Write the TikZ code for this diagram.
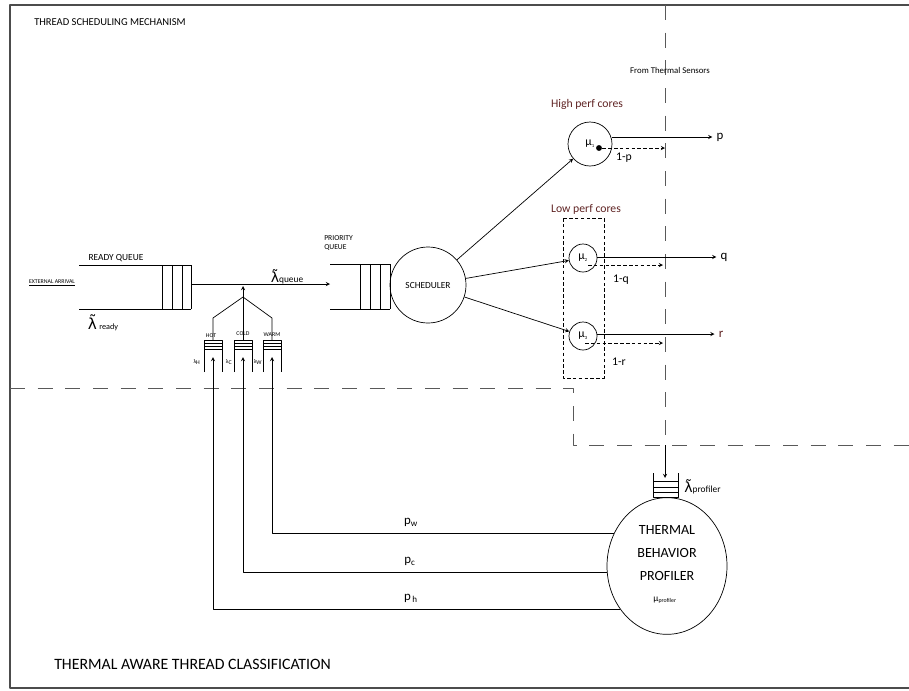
\documentclass[tikz,border=0pt]{standalone}
\usepackage{fontspec}
\setmainfont{Carlito}
\newfontfamily\lamfont{DejaVu Sans}
\usetikzlibrary{shapes.geometric}
\definecolor{brick}{RGB}{95,35,35}
\begin{document}
\begin{tikzpicture}[x=0.03cm, y=-0.03cm, line width=0.6pt, line join=round, >=stealth,
		font=\fontsize{8}{9}\selectfont,
		core/.style={draw, circle, inner sep=0pt, font=\fontsize{10}{11}\selectfont},
		divider/.style={draw=black!65, line width=0.8pt, dash pattern=on 0.45cm off 0.38cm},
		fine/.style={dash pattern=on 3pt off 2pt},
		qlab/.style={font=\fontsize{5}{6}\selectfont, inner sep=1pt}]
	\useasboundingbox (0,0) rectangle (909,690);
	\draw[black!70, line width=0.9pt] (909,5) -- (10,5) -- (10,688) -- (909,688);
	\draw[divider] (10,388) -- (573,388) -- (573,445) -- (909,445);
	\draw[divider] (665,5) -- (665,445);
	\node[anchor=west, font=\fontsize{9}{10}\selectfont] (top) at (30,22) {THREAD SCHEDULING MECHANISM};
	\node[anchor=west, font=\fontsize{13.5}{15}\selectfont] (bottom) at (50,664) {THERMAL AWARE THREAD CLASSIFICATION};
	\node[font=\fontsize{7.5}{9}\selectfont] (sensors) at (670,70) {From Thermal Sensors};

	\coordinate (rqout) at (191,284);
	\draw (79,265) -- (191,265) (79,309) -- (191,309);
	\foreach \x in {162,172,182,191} \draw (\x,265) -- (\x,309);
	\node (rqname) at (116,258) {READY QUEUE};
	\node[font=\fontsize{5}{6}\selectfont] (ext) at (52,283) {\underline{EXTERNAL ARRIVAL}};
	\node (lready) at (103,323) {\fontsize{13}{13}\lamfont λ̃\kern2pt\fontsize{7}{8}\normalfont ready};

	\coordinate (pqin) at (330,284);
	\draw (330,264) -- (390,264) (330,309) -- (390,309);
	\foreach \x in {360,370,380,390} \draw (\x,264) -- (\x,309);
	\node[anchor=west, align=left, font=\fontsize{6.5}{8}\selectfont] (pqname) at (320,243) {PRIORITY\\QUEUE};
	\draw[->] (rqout) -- (pqin);
	\node (lqueue) at (287,277) {\fontsize{12}{12}\lamfont λ̃\fontsize{8}{9}\normalfont queue};

	\node[core, minimum size=2.28cm, font=\fontsize{8}{9}\selectfont] (sched) at (428,285) {SCHEDULER};
	\node[core, minimum size=1.32cm] (c1) at (590,144) {μ\textsubscript{\fontsize{4}{4}\selectfont 1}};
	\node[core, minimum size=0.84cm] (c2) at (583,258) {μ\textsubscript{\fontsize{4}{4}\selectfont 2}};
	\node[core, minimum size=0.84cm] (c3) at (583,336) {μ\textsubscript{\fontsize{4}{4}\selectfont 3}};
	\draw[->] (sched) -- (c1);
	\draw[->] (sched) -- (c2);
	\draw[->] (sched) -- (c3);
	\draw[fine] (563,218) rectangle (604,378);
	\node[text=brick, font=\fontsize{10}{12}\selectfont] (high) at (587,104) {High perf cores};
	\node[text=brick, font=\fontsize{10}{12}\selectfont] (low) at (586,209) {Low perf cores};

	\node[font=\fontsize{11}{12}\selectfont] (p) at (720,137) {p};
	\node[font=\fontsize{11}{12}\selectfont] (q) at (724,257) {q};
	\node[font=\fontsize{11}{12}\selectfont, text=brick] (r) at (721,334) {r};
	\draw[->] (c1.east |- p) -- (p);
	\draw[->] (c2.east |- q) -- (q);
	\draw[->] (c3.east |- r) -- (r);
	\node[fill, circle, inner sep=0pt, minimum size=5pt] (d1) at (599,148) {};
	\coordinate (s2) at (588,265);
	\coordinate (s3) at (585,343);
	\coordinate (e1) at (665,148);
	\coordinate (e2) at (663,265);
	\coordinate (e3) at (663,343);
	\draw[fine, ->] (d1) -- (e1);
	\draw[fine, ->] (s2) -- (e2);
	\draw[fine, ->] (s3) -- (e3);
	\node[font=\fontsize{10}{12}\selectfont] (np) at (624,158) {1-p};
	\node[font=\fontsize{10}{12}\selectfont] (nq) at (621,280) {1-q};
	\node[font=\fontsize{10}{12}\selectfont] (nr) at (619,362) {1-r};

	\foreach \x in {213,243,272}{
		\draw (\x-9,372) -- (\x-9,340) -- (\x+9,340) -- (\x+9,372);
		\foreach \y in {343,346,349} \draw (\x-9,\y) -- (\x+9,\y);
	}
	\coordinate (hottop) at (213,340);
	\coordinate (coldtop) at (243,340);
	\coordinate (warmtop) at (272,340);
	\coordinate (fork) at (243,297);
	\coordinate (join) at (243,286);
	\draw (hottop) -- (213,318) -- (fork) -- (272,318) -- (warmtop);
	\draw[->] (coldtop) -- (join);
	\node[qlab] (hot) at (211,336) {HOT};
	\node[qlab] (cold) at (243,334) {COLD};
	\node[qlab] (warm) at (272,335) {WARM};
	\node[qlab] (lh) at (197,362) {λ\textsubscript{H}};
	\node[qlab] (lc) at (229,362) {λ\textsubscript{C}};
	\node[qlab] (lw) at (258,362) {λ\textsubscript{W}};
	\coordinate (hotin) at (213,357);
	\coordinate (coldin) at (243,357);
	\coordinate (warmin) at (272,357);

	\node[draw, ellipse, minimum width=3.6cm, minimum height=4.1cm] (prof) at (667,566) {};
	\node[align=center, font=\fontsize{12}{19.5}\selectfont] (proftext) at (667,553) {THERMAL\\BEHAVIOR\\PROFILER};
	\node (muprof) at (665,600) {μ\textsubscript{\fontsize{5}{5}\selectfont profiler}};
	\draw (653,473) -- (653,497) -- (678,497) -- (678,473);
	\foreach \y in {481,487,492} \draw (653,\y) -- (678,\y);
	\coordinate (sens) at (665,445);
	\coordinate (profq) at (665,478);
	\draw[->] (sens) -- (profq);
	\node[anchor=west] (lprof) at (680,487) {\fontsize{12}{12}\lamfont λ̃\fontsize{8}{9}\normalfont profiler};

	\draw[->] (prof.148) -| (warmin);
	\draw[->] (prof.186) -| (coldin);
	\draw[->] (prof.223) -| (hotin);
	\node[font=\fontsize{11}{12}\selectfont] (pw) at (411,522) {p\textsubscript{w}};
	\node[font=\fontsize{11}{12}\selectfont] (pc) at (410,561) {p\textsubscript{c}};
	\node[font=\fontsize{11}{12}\selectfont] (ph) at (411,598) {p\textsubscript{\,h}};
\end{tikzpicture}
\end{document}
